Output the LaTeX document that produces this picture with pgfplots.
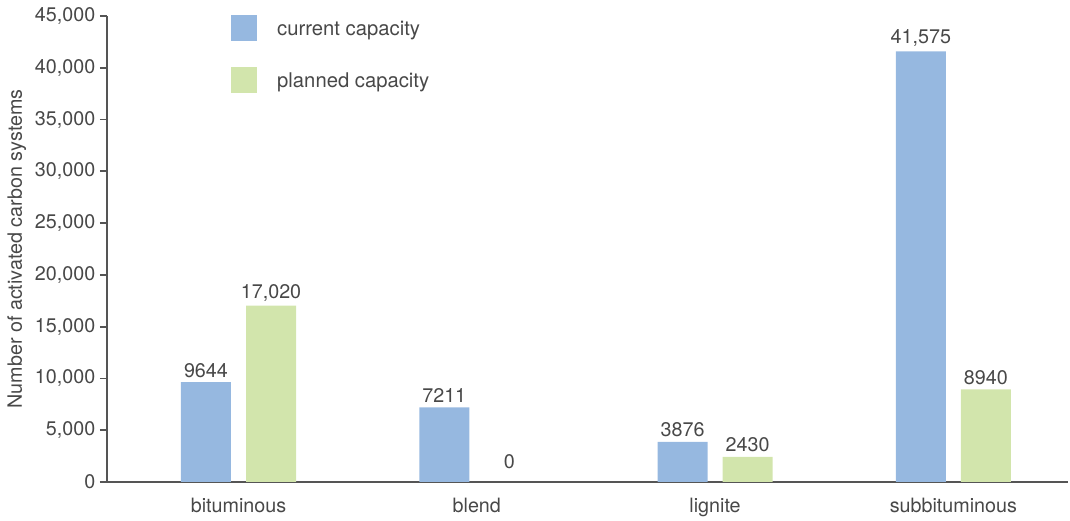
\documentclass[border=0pt]{standalone}
\usepackage{pgfplots}
\pgfplotsset{compat=1.18}
\usepackage{pgfplotstable}
\usepackage{fontspec}
\setmainfont{TeX Gyre Heros}
\definecolor{cur}{HTML}{96B8E0}
\definecolor{pla}{HTML}{D2E5AC}
\definecolor{txt}{HTML}{484848}
\definecolor{axc}{HTML}{555555}

\pgfplotstableread{
x y lab
0 9644 9644
1 7211 7211
2 3876 3876
3 41575 41,575
}\current
\pgfplotstableread{
x y lab
0 17020 17,020
2 2430 2430
3 8940 8940
}\planned
\pgfplotstableread{
x y lab
1 0 0
}\plannedzero

\pgfplotsset{sqlegend/.style={legend image code/.code={\fill[##1] (0pt,-9pt) rectangle (19.5pt,10.5pt);}}}

\begin{document}
\begin{tikzpicture}[font=\fontsize{14.8pt}{17pt}\selectfont]
\begin{axis}[
  scale only axis, width=720.75pt, height=349.5pt,
  xmin=-0.552, xmax=3.481, ymin=0, ymax=45000,
  axis x line*=bottom, axis y line*=left,
  axis line style={axc, line width=1.3pt},
  ytick={0,5000,...,45000},
  xtick={0,1,2,3},
  xticklabels={bituminous,blend,lignite,subbituminous},
  xticklabel style={yshift=-3pt},
  major x tick style={draw=none},
  tick align=outside, major tick length=5.25pt,
  ytick style={axc, line width=1.3pt},
  scaled y ticks=false,
  yticklabel style={/pgf/number format/.cd, 1000 sep={,}, fixed, assume math mode=true},
  ticklabel style={text=txt},
  ylabel={Number of activated carbon systems},
  ylabel style={text=txt, at={(axis description cs:-0.0937,0.5)}, anchor=center},
  ybar, bar width=37.5pt,
  nodes near coords, point meta=explicit symbolic,
  every node near coord/.append style={text=txt},
  clip=false,
  legend style={at={(axis description cs:0.129,1.002)}, anchor=north west, draw=none, fill=none,
    inner sep=0pt, row sep=19.5pt, column sep=13pt, text=txt, cells={anchor=west},
    font=\fontsize{15.2pt}{17pt}\selectfont},
]
\addplot[fill=cur, draw=none, bar shift=-24.4pt, sqlegend] table[x=x, y=y, meta=lab] {\current};
\addlegendentry{current capacity}
\addplot[fill=pla, draw=none, bar shift=24.4pt, sqlegend] table[x=x, y=y, meta=lab] {\planned};
\addlegendentry{planned capacity}
\addplot[forget plot, fill=none, draw=none, bar shift=24.4pt,
  every node near coord/.append style={yshift=6.5pt}] table[x=x, y=y, meta=lab] {\plannedzero};
\path (axis description cs:-0.1113,-0.073) rectangle (axis description cs:1.0021,1.0343);
\end{axis}
\end{tikzpicture}
\end{document}
